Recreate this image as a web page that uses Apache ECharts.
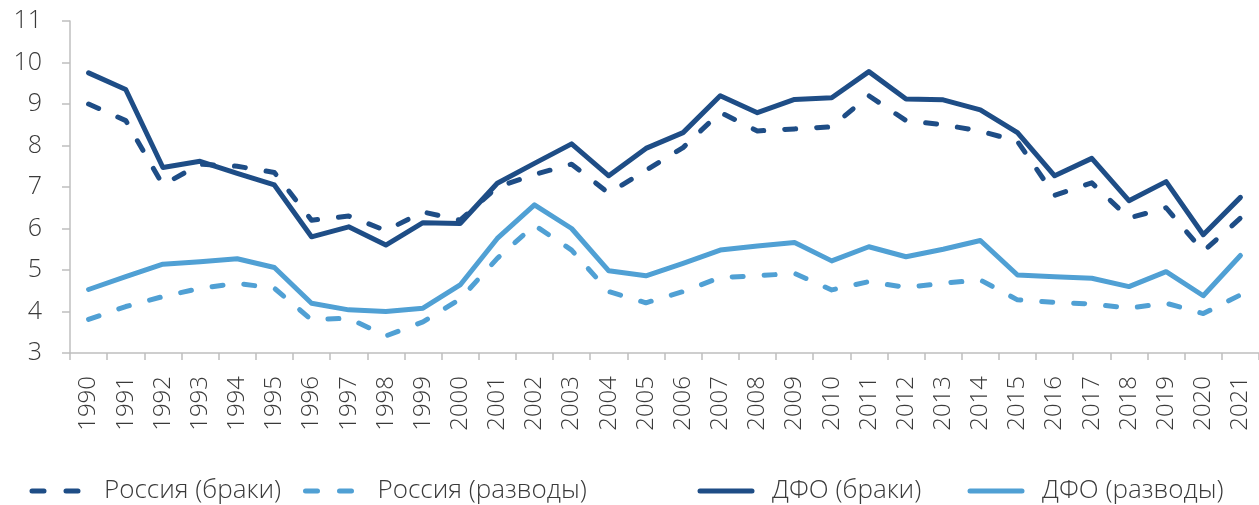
<!DOCTYPE html>
<html>
<head>
<meta charset="utf-8">
<script src="https://cdn.jsdelivr.net/npm/echarts@6/dist/echarts.min.js"></script>
<style>
html, body { margin: 0; padding: 0; background: #fff; }
#chart { width: 1259px; height: 505px; }
</style>
</head>
<body>
<div id="chart"></div>
<script>
// years on the x axis
var years = ['1990', '1991', '1992', '1993', '1994', '1995', '1996', '1997', '1998', '1999',
    '2000', '2001', '2002', '2003', '2004', '2005', '2006', '2007', '2008', '2009',
    '2010', '2011', '2012', '2013', '2014', '2015', '2016', '2017', '2018', '2019',
    '2020', '2021'];

var russiaMarriages = [9.0, 8.6, 7.05, 7.55, 7.5, 7.35, 6.2, 6.3, 5.95, 6.4,
    6.2, 7.0, 7.3, 7.55, 6.85, 7.4, 7.95, 8.8, 8.35, 8.4,
    8.45, 9.2, 8.6, 8.5, 8.35, 8.1, 6.8, 7.1, 6.25, 6.5,
    5.45, 6.25];

var russiaDivorces = [3.81, 4.12, 4.36, 4.56, 4.68, 4.56, 3.8, 3.84, 3.41, 3.75,
    4.3, 5.28, 6.08, 5.48, 4.48, 4.21, 4.48, 4.82, 4.86, 4.92,
    4.52, 4.72, 4.58, 4.68, 4.76, 4.28, 4.22, 4.18, 4.08, 4.2,
    3.95, 4.4];

var dfoMarriages = [9.75, 9.35, 7.47, 7.62, 7.33, 7.05, 5.8, 6.04, 5.6, 6.14,
    6.12, 7.09, 7.57, 8.04, 7.27, 7.93, 8.31, 9.2, 8.79, 9.11,
    9.15, 9.78, 9.12, 9.1, 8.86, 8.31, 7.27, 7.69, 6.67, 7.13,
    5.85, 6.75];

var dfoDivorces = [4.53, 4.84, 5.14, 5.2, 5.27, 5.06, 4.2, 4.04, 4.0, 4.08,
    4.64, 5.76, 6.57, 6.0, 4.98, 4.86, 5.16, 5.48, 5.58, 5.66,
    5.22, 5.56, 5.32, 5.5, 5.71, 4.88, 4.84, 4.8, 4.6, 4.96,
    4.38, 5.35];

var names = ['Россия (браки)', 'Россия (разводы)', 'ДФО (браки)', 'ДФО (разводы)'];

var dark = '#1E4D86';
var light = '#50A0D4';
var textColor = '#3a3a3a';
var axisColor = '#bfbfbf';
var font = 'Open Sans';

function makeSeries(name, data, color, dashed) {
    return {
        name: name,
        type: 'line',
        data: data,
        symbol: 'none',
        smooth: false,
        lineStyle: {
            color: color,
            width: 5,
            type: dashed ? [11, 21] : 'solid',
            cap: 'round',
            join: 'round'
        },
        itemStyle: { color: color }
    };
}

// one legend per entry, the gaps in the original are not even
function makeLegend(name, left, dashed) {
    return {
        data: [name],
        left: left,
        top: 478,
        padding: 0,
        itemWidth: dashed ? 46 : 52,
        itemHeight: 14,
        itemStyle: { opacity: 0 },
        lineStyle: {
            width: 5,
            type: dashed ? [12, 22] : 'solid',
            cap: 'round'
        },
        textStyle: {
            fontFamily: font,
            fontWeight: 300,
            fontSize: 26,
            color: textColor,
            padding: [0, 0, 0, dashed ? 21 : 15]
        }
    };
}

var chart = echarts.init(document.getElementById('chart'));

chart.setOption({
    animation: false,
    backgroundColor: '#fff',
    grid: {
        left: 70,
        right: 0,
        top: 21,
        bottom: 152
    },
    legend: [
        makeLegend(names[0], 29.5, true),
        makeLegend(names[1], 303, true),
        makeLegend(names[2], 697.5, false),
        makeLegend(names[3], 967.5, false)
    ],
    xAxis: {
        type: 'category',
        data: years,
        boundaryGap: true,
        axisLine: { lineStyle: { color: axisColor, width: 1.5 } },
        axisTick: { show: true, length: 7, lineStyle: { color: axisColor, width: 1.5 } },
        axisLabel: {
            rotate: 90,
            margin: 23,
            interval: 0,
            fontFamily: font,
            fontWeight: 300,
            fontSize: 24,
            color: textColor
        },
        splitLine: { show: false }
    },
    yAxis: {
        type: 'value',
        min: 3,
        max: 11,
        interval: 1,
        axisLine: { show: true, lineStyle: { color: axisColor, width: 1.5 } },
        axisTick: { show: true, length: 8, lineStyle: { color: axisColor, width: 1.5 } },
        axisLabel: {
            margin: 28,
            fontFamily: font,
            fontWeight: 300,
            fontSize: 25,
            color: textColor
        },
        splitLine: { show: false }
    },
    series: [
        makeSeries(names[2], dfoMarriages, dark, false),
        makeSeries(names[3], dfoDivorces, light, false),
        makeSeries(names[0], russiaMarriages, dark, true),
        makeSeries(names[1], russiaDivorces, light, true)
    ]
});
</script>
</body>
</html>
